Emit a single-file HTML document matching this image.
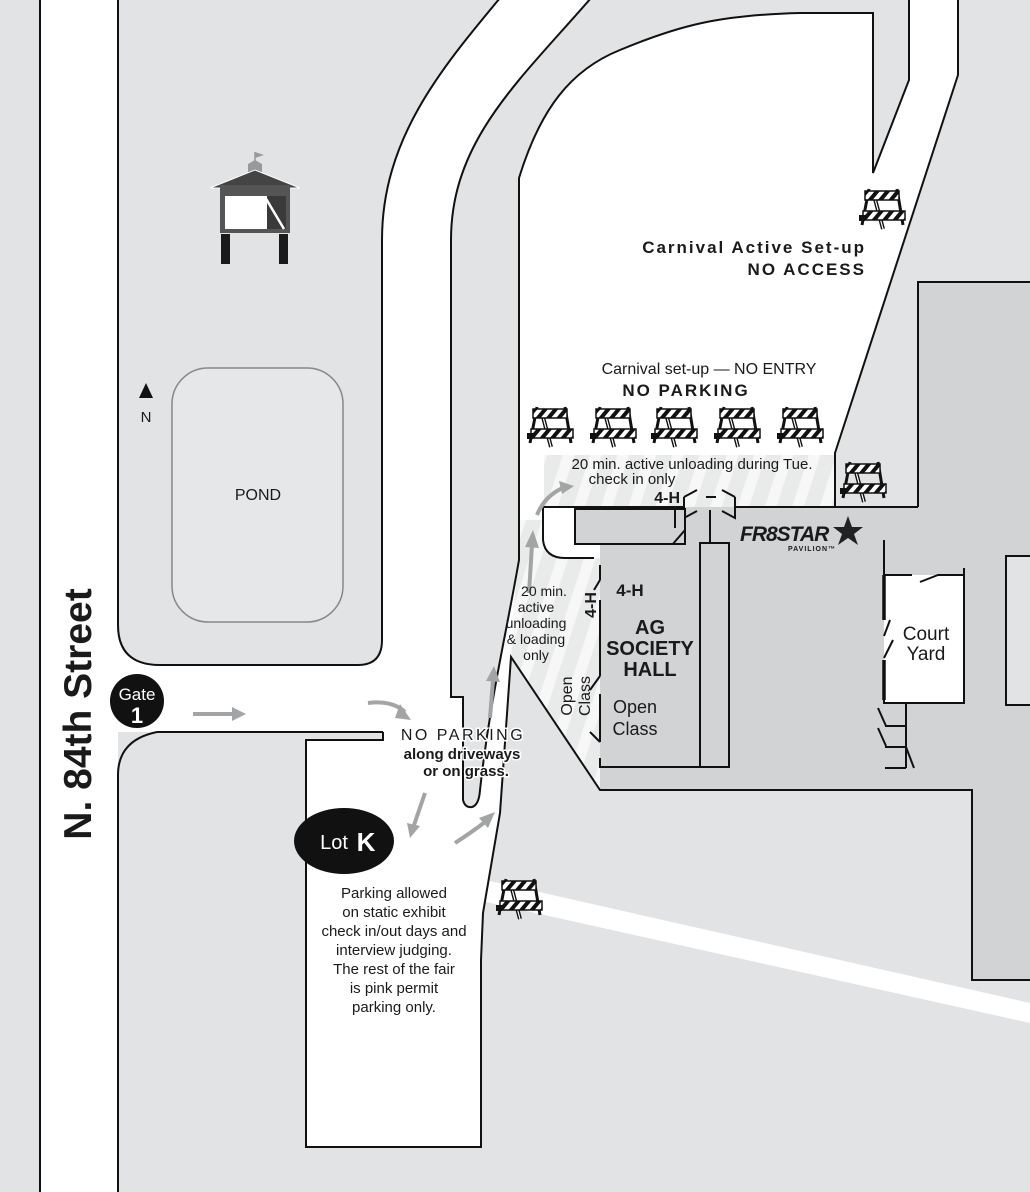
<!DOCTYPE html>
<html><head><meta charset="utf-8"><style>
html,body{margin:0;padding:0;background:#e2e3e4;}
svg{display:block}
text{font-family:"Liberation Sans",sans-serif;fill:#1a1a1a}
</style></head><body>
<svg width="1030" height="1192" viewBox="0 0 1030 1192" xmlns="http://www.w3.org/2000/svg">
<defs>
<pattern id="hatch" width="26" height="26" patternUnits="userSpaceOnUse" patternTransform="rotate(18)">
<rect width="26" height="26" fill="#e9eaea"/><rect width="11" height="26" fill="#f7f7f7"/>
</pattern>
<pattern id="str" width="8" height="8" patternUnits="userSpaceOnUse" patternTransform="rotate(40)">
<rect width="8" height="8" fill="#fff"/><rect width="4" height="8" fill="#111"/>
</pattern>
<symbol id="bar" viewBox="0 0 48 46">
<line x1="10" y1="4" x2="3" y2="40" stroke="#111" stroke-width="3"/>
<line x1="38" y1="4" x2="44" y2="40" stroke="#111" stroke-width="3"/>
<line x1="16" y1="14" x2="24" y2="44" stroke="#111" stroke-width="4"/>
<line x1="16" y1="14" x2="24" y2="44" stroke="#fff" stroke-width="1.2"/>
<rect x="6" y="6" width="34" height="9" fill="url(#str)" stroke="#111" stroke-width="1.5"/>
<rect x="4" y="26" width="42" height="9" fill="url(#str)" stroke="#111" stroke-width="1.5"/>
<rect x="0" y="30" width="6" height="6" fill="#111"/>
</symbol>
</defs>
<rect width="1030" height="1192" fill="#e2e3e4"/>
<rect x="40" y="0" width="78" height="1192" fill="#fff"/>
<path d="M118,0 H958 V75 L835,453 V507 H600 V790 L511,657 L500,813 L483,913 L481,960 V1147 H306 V740 H383 V732 H118 Z" fill="#fff"/>
<!-- dark pavilion -->
<path d="M600,507 H918 V282 H1030 V980 H972 V790 H600 Z" fill="#d2d3d5"/>
<!-- hatched areas -->
<path d="M544,455 H835 V507 H544 Z" fill="url(#hatch)"/>
<path d="M519,520 L543,520 L543,540 Q545,558 565,558 L600,558 L600,790 L511,657 L517,560 Z" fill="url(#hatch)"/>
<path d="M835,453 L958,75 V0 H1030 V282 H918 V507 H835 Z" fill="#e2e3e4"/>
<!-- top-left block -->
<path d="M118,-2 L500,-2 C440,70 382,140 382,240 L382,640 Q382,665 358,665 L160,665 Q118,665 118,625 Z" fill="#e2e3e4" stroke="#111" stroke-width="2"/>
<line x1="40" y1="0" x2="40" y2="1192" stroke="#111" stroke-width="2"/>
<!-- gray strip between road and carnival -->
<path d="M591,-2 C520,80 451,140 451,240 L451,697 L463,697 L463,800 Q465,808 472,807 Q479,805 480,790 C490,700 505,640 519,560 L519,178 C540,110 570,70 620,50 C680,25 720,15 800,13 L873,13 L873,173 L909,80 L909,-2 Z" fill="#e2e3e4" stroke="#111" stroke-width="2"/>
<path d="M958,0 V75 L835,453 V507" fill="none" stroke="#111" stroke-width="2"/>
<path d="M918,507 V282 H1032" fill="none" stroke="#111" stroke-width="2"/>
<!-- lower right rect -->
<rect x="820" y="792" width="152" height="188" fill="#e2e3e4"/>
<!-- bottom white road -->
<path d="M486,880 L1030,1003 L1030,1023 L486,902 Z" fill="#fff"/>
<!-- bottom-left block & lot K -->
<path d="M383,732 L157,732 Q118,740 118,775 L118,1192" fill="none" stroke="#111" stroke-width="2"/>
<path d="M383,732 V740 H306 V1147 H481 V960 L483,913 L500,813 L511,657 L600,790 H972 V980 H1032" fill="none" stroke="#111" stroke-width="2"/>
<!-- band lines -->
<path d="M543,507 H684 M735,507 H918 M835,453 V507" fill="none" stroke="#111" stroke-width="2"/>
<path d="M684,497 L697,490 M684,497 V518 L697,511 M735,497 L722,490 M735,497 V518 L722,511 M706,497 H716" fill="none" stroke="#111" stroke-width="2"/>
<!-- 4-H building -->
<path d="M543,507 V540 Q545,558 565,558 H594" fill="none" stroke="#111" stroke-width="2"/>
<rect x="575" y="509" width="110" height="35" fill="#d2d3d5" stroke="#111" stroke-width="2"/>
<path d="M675,510 V528 M685,530 L672,545" stroke="#111" stroke-width="2" fill="none"/>
<line x1="710" y1="510" x2="710" y2="543" stroke="#111" stroke-width="2"/>
<!-- AG hall -->
<rect x="600" y="545" width="100" height="222" fill="#d2d3d5"/>
<path d="M600,565 V580 M600,600 V676 M600,694 V742 M600,758 V767 H729 V543 H700 V767" fill="none" stroke="#111" stroke-width="2"/>
<path d="M600,580 L594,590 M600,676 L590,690 M600,742 L590,732" stroke="#111" stroke-width="2"/>
<!-- court yard -->
<rect x="884" y="575" width="80" height="128" fill="#fff"/>
<path d="M884,540 V575 H912 M920,582 L938,575 H964 V703 H884 V660" fill="none" stroke="#111" stroke-width="2"/>
<path d="M884,575 V620 M884,660 V700" stroke="#111" stroke-width="3.5"/>
<path d="M890,620 L884,636 M893,640 L884,658 M964,568 V575" stroke="#111" stroke-width="2"/>
<path d="M906,703 V768 M885,726 H906 M885,747 H906 M885,768 H906 M878,708 L886,726 M878,728 L886,746 M906,747 L914,768" fill="none" stroke="#111" stroke-width="2"/>
<rect x="1006" y="556" width="30" height="149" fill="#e2e3e4" stroke="#111" stroke-width="2"/>
<!-- pond -->
<rect x="172" y="368" width="171" height="254" rx="36" fill="#e6e7e8" stroke="#888" stroke-width="1.5"/>
<text x="258" y="500" font-size="16" text-anchor="middle">POND</text>
<!-- north -->
<path d="M139,398 L146,383 L153,398 Z" fill="#111"/>
<text x="146" y="422" font-size="15" text-anchor="middle">N</text>
<!-- gazebo -->
<path d="M255,152 V164" stroke="#999" stroke-width="1.5"/>
<path d="M255,152 L264,155 L255,158 Z" fill="#999"/>
<path d="M248,172 V164 L255,160 L262,164 V172 Z" fill="#999"/>
<path d="M210,188 L255,170 L300,188 Z" fill="#444" stroke="#fff" stroke-width="1"/>
<rect x="220" y="185" width="70" height="48" fill="#555"/>
<rect x="225" y="196" width="42" height="33" fill="#fff"/>
<rect x="267" y="196" width="19" height="33" fill="#3a3a3a"/>
<line x1="265" y1="197" x2="284" y2="229" stroke="#fff" stroke-width="2.5"/>
<rect x="221" y="234" width="9" height="30" fill="#1a1a1a"/>
<rect x="279" y="234" width="9" height="30" fill="#1a1a1a"/>
<!-- street label -->
<text transform="translate(91,714) rotate(-90)" font-size="39" font-weight="bold" text-anchor="middle">N. 84th Street</text>
<!-- gate -->
<circle cx="137" cy="701" r="27" fill="#111"/>
<text x="137" y="700" font-size="17" text-anchor="middle" style="fill:#fff">Gate</text>
<text x="137" y="723" font-size="22" font-weight="bold" text-anchor="middle" style="fill:#fff">1</text>
<!-- lot K -->
<ellipse cx="344" cy="841" rx="50" ry="33" fill="#111"/>
<text x="334" y="849" font-size="20" text-anchor="middle" style="fill:#fff">Lot</text>
<text x="366" y="851" font-size="26" font-weight="bold" text-anchor="middle" style="fill:#fff">K</text>
<!-- arrows -->
<g stroke="#a3a4a6" stroke-width="4" fill="none">
<path d="M193,714 H232"/>
<path d="M368,703 Q392,700 405,712"/>
<path d="M425,793 L414,825"/>
<path d="M455,843 Q472,832 485,822"/>
<path d="M490,718 L493,680"/>
<path d="M529,593 L532,545"/>
<path d="M537,515 Q545,495 565,487"/>
</g>
<g fill="#a3a4a6">
<path d="M232,707 L246,714 L232,721 Z"/>
<path d="M400,704 L411,720 L395,718 Z"/>
<path d="M407,823 L410,838 L420,826 Z"/>
<path d="M479,818 L495,812 L488,828 Z"/>
<path d="M486,681 L494,666 L500,682 Z"/>
<path d="M525,547 L533,530 L539,548 Z"/>
<path d="M559,481 L574,486 L562,494 Z"/>
</g>
<!-- barricades -->
<use href="#bar" x="527" y="403" width="48" height="46"/>
<use href="#bar" x="590" y="403" width="48" height="46"/>
<use href="#bar" x="651" y="403" width="48" height="46"/>
<use href="#bar" x="714" y="403" width="48" height="46"/>
<use href="#bar" x="777" y="403" width="48" height="46"/>
<use href="#bar" x="859" y="185" width="48" height="46"/>
<use href="#bar" x="840" y="458" width="48" height="46"/>
<use href="#bar" x="496" y="875" width="48" height="46"/>
<!-- labels -->
<text x="866" y="253" font-size="17" font-weight="bold" text-anchor="end" letter-spacing="2">Carnival Active Set-up</text>
<text x="866" y="275" font-size="17" font-weight="bold" text-anchor="end" letter-spacing="2">NO ACCESS</text>
<text x="709" y="374" font-size="16" text-anchor="middle">Carnival set-up — NO ENTRY</text>
<text x="686" y="396" font-size="17" font-weight="bold" text-anchor="middle" letter-spacing="2">NO PARKING</text>
<text x="692" y="469" font-size="15" text-anchor="middle">20 min. active unloading during Tue.</text>
<text x="632" y="484" font-size="15" text-anchor="middle">check in only</text>
<text x="680" y="503" font-size="16" font-weight="bold" text-anchor="end">4-H</text>
<text x="740" y="541" font-size="21" font-weight="bold" font-style="italic" letter-spacing="-1">FR8STAR</text>
<path d="M848,516 L852,527 L863,527 L854,534 L858,545 L848,538 L838,545 L842,534 L833,527 L844,527 Z" fill="#222"/>
<text x="788" y="551" font-size="7" font-weight="bold" letter-spacing="1">PAVILION™</text>
<g font-size="14" text-anchor="middle">
<text x="544" y="596">20 min.</text>
<text x="536" y="612">active</text>
<text x="536" y="628">unloading</text>
<text x="536" y="644">&amp; loading</text>
<text x="536" y="660">only</text>
</g>
<text transform="translate(596,605) rotate(-90)" font-size="16" font-weight="bold" text-anchor="middle">4-H</text>
<text x="630" y="596" font-size="17" font-weight="bold" text-anchor="middle">4-H</text>
<g font-size="20" font-weight="bold" text-anchor="middle">
<text x="650" y="634">AG</text>
<text x="650" y="655">SOCIETY</text>
<text x="650" y="676">HALL</text>
</g>
<text transform="translate(572,696) rotate(-90)" font-size="16" text-anchor="middle">Open</text>
<text transform="translate(590,696) rotate(-90)" font-size="16" text-anchor="middle">Class</text>
<text x="635" y="713" font-size="18" text-anchor="middle">Open</text>
<text x="635" y="735" font-size="18" text-anchor="middle">Class</text>
<text x="926" y="640" font-size="19" text-anchor="middle">Court</text>
<text x="926" y="660" font-size="19" text-anchor="middle">Yard</text>
<g text-anchor="middle" stroke="#fff" stroke-width="3" paint-order="stroke">
<text x="463" y="740" font-size="16" letter-spacing="2.5">NO PARKING</text>
<text x="462" y="759" font-size="15" font-weight="bold">along driveways</text>
<text x="466" y="776" font-size="15" font-weight="bold">or on grass.</text>
</g>
<g font-size="15" text-anchor="middle">
<text x="394" y="898">Parking allowed</text>
<text x="394" y="917">on static exhibit</text>
<text x="394" y="936">check in/out days and</text>
<text x="394" y="955">interview judging.</text>
<text x="394" y="974">The rest of the fair</text>
<text x="394" y="993">is pink permit</text>
<text x="394" y="1012">parking only.</text>
</g>
</svg>
</body></html>
